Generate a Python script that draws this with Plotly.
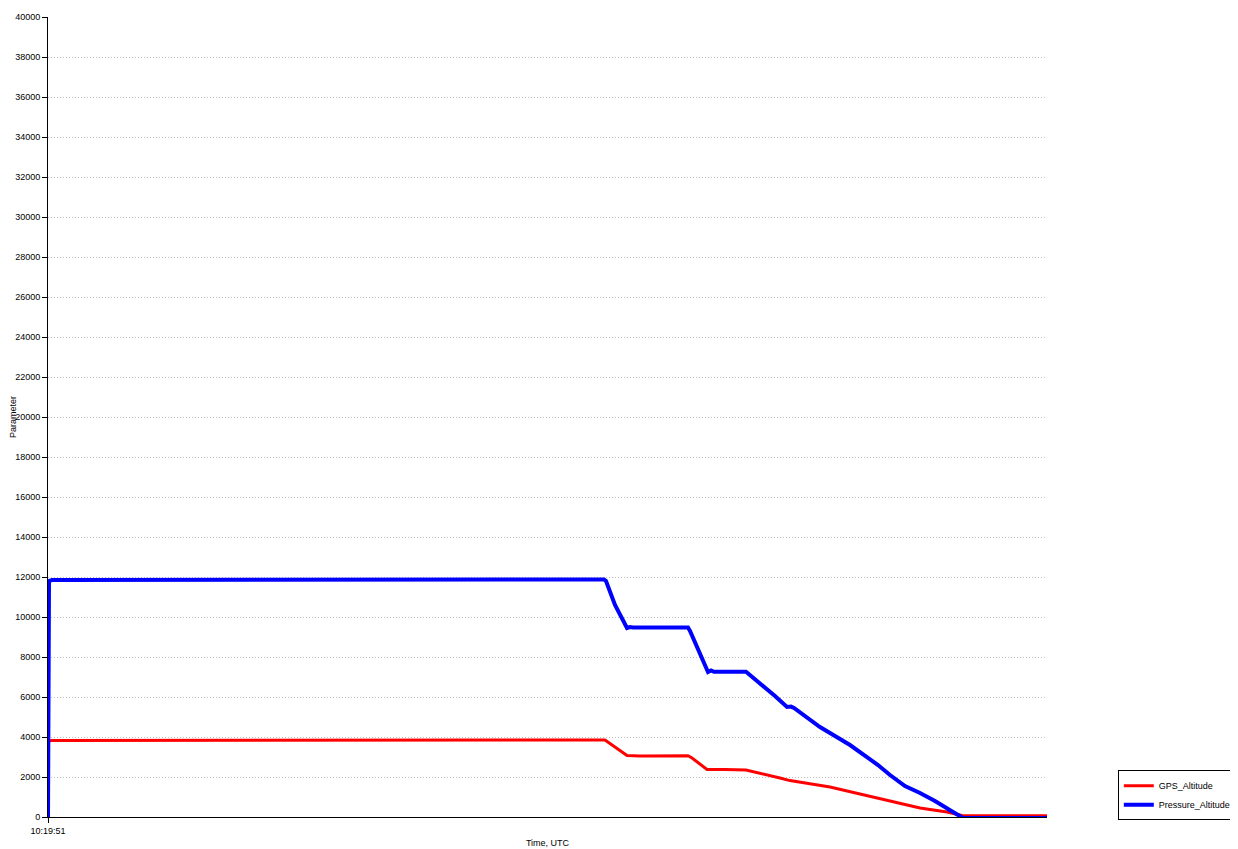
import pandas as pd
import plotly.graph_objects as go

start = pd.Timestamp("2024-01-01 10:19:51")

# seconds after 10:19:51
gps_t = [10, 40, 5570, 5640, 5790, 5920, 6400, 6440, 6590, 6770, 6980, 7320, 7420,
         7820, 8320, 8720, 8990, 9140, 9990]
gps_alt = [3800, 3830, 3850, 3600, 3080, 3050, 3060, 2950, 2380, 2370, 2350, 1950, 1820,
           1500, 900, 450, 250, 80, 60]

pres_t = [0, 5, 10, 40, 5560, 5580, 5670, 5790, 5820, 5850, 6400, 6420, 6600, 6630, 6660,
          6980, 7120, 7270, 7390, 7430, 7460, 7720, 8020, 8270, 8300, 8420, 8570, 8720,
          8870, 9050, 9150, 9520, 9990]
pres_alt = [0, 4200, 11800, 11850, 11880, 11800, 10600, 9450, 9500, 9480, 9480, 9300, 7250,
            7330, 7260, 7260, 6700, 6050, 5500, 5520, 5450, 4500, 3600, 2700, 2600, 2100,
            1550, 1200, 800, 250, -50, -50, -50]

y_ticks = list(range(0, 40001, 2000))


def to_time(sec):
    return [start + pd.Timedelta(seconds=s) for s in sec]


fig = go.Figure()
fig.add_trace(go.Scatter(x=to_time(gps_t), y=gps_alt, mode="lines", name="GPS_Altitude",
                         line=dict(color="#ff0000", width=3)))
fig.add_trace(go.Scatter(x=to_time(pres_t), y=pres_alt, mode="lines", name="Pressure_Altitude",
                         line=dict(color="#0000ff", width=4)))

# page body has an 8px margin, so the figure is 8px smaller each way
fig.update_layout(
    width=1230, height=841,
    margin=dict(l=40, r=191, t=9, b=32, autoexpand=False),
    paper_bgcolor="white", plot_bgcolor="white",
    font=dict(family="Liberation Sans, Arial, sans-serif", size=10, color="black"),
    legend=dict(x=1.19, y=-0.004, xanchor="right", yanchor="bottom",
                bordercolor="black", borderwidth=1, bgcolor="white",
                font=dict(size=9), tracegroupgap=0, itemwidth=30),
    showlegend=True,
)
fig.update_xaxes(
    range=[start, start + pd.Timedelta(seconds=9990)],
    tickvals=[start], ticktext=["10:19:51"], tickfont=dict(size=9),
    showgrid=False, zeroline=False, automargin=False,
    showline=True, linecolor="black", linewidth=1,
    ticks="outside", ticklen=5, tickcolor="black",
    title=dict(text="Time, UTC", standoff=4, font=dict(size=9)),
)
fig.update_yaxes(
    range=[0, 40000], tickvals=y_ticks, tickformat="d", tickfont=dict(size=9),
    showgrid=True, gridcolor="#c0c0c0", griddash="1px,2px", gridwidth=1,
    zeroline=False, automargin=False,
    showline=True, linecolor="black", linewidth=1,
    ticks="outside", ticklen=5, tickcolor="black",
    title=dict(text="Parameter", standoff=4, font=dict(size=9)),
)

fig.write_html("out.html")
